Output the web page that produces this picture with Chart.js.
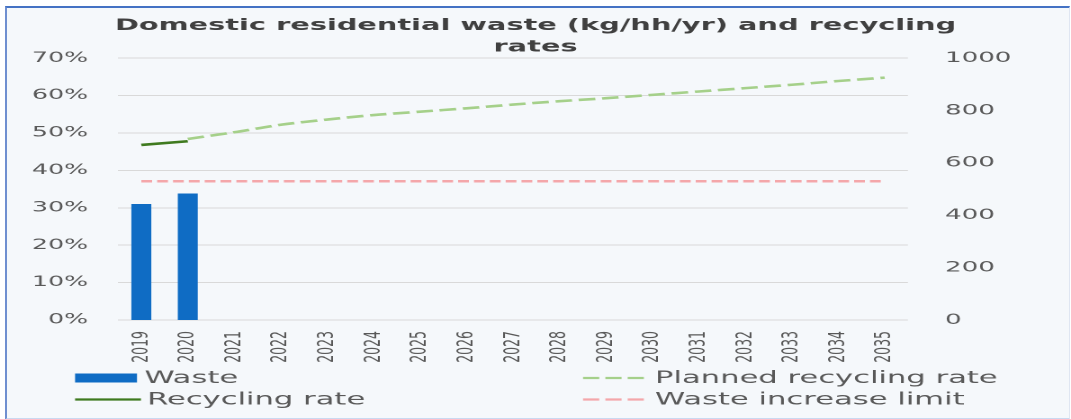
<!DOCTYPE html>
<html>
<head>
<meta charset="utf-8">
<script src="https://cdn.jsdelivr.net/npm/chart.js@4.4.1/dist/chart.umd.min.js"></script>
<style>
  html, body { margin: 0; padding: 0; background: #ffffff; }
  body { width: 1071px; height: 419px; position: relative; overflow: hidden; }
  #frame {
    position: absolute; left: 5px; top: 6px; width: 1062px; height: 410px;
    background: #f5f8fb;
    border-top: 2px solid #4472c4; border-left: 2px solid #6f8fd0;
    border-right: 1px solid #dfe6f2; border-bottom: 2px solid #c9d8f0;
  }
  #wrap {
    position: absolute; left: 0; top: 0; width: 595px; height: 419px;
    transform: scale(1.8, 1); transform-origin: 0 0;
  }
</style>
</head>
<body>
<div id="frame"></div>
<div id="wrap"><canvas id="c"></canvas></div>
<script>
const titleLines = ['Domestic residential waste (kg/hh/yr) and recycling', 'rates'];
const categories = ['2019','2020','2021','2022','2023','2024','2025','2026','2027','2028','2029','2030','2031','2032','2033','2034','2035'];
const wasteKg = [443, 483, null, null, null, null, null, null, null, null, null, null, null, null, null, null, null];
const recyclingRate = [46.8, 47.8, null, null, null, null, null, null, null, null, null, null, null, null, null, null, null];
const plannedRate = [null, 48.4, 50.2, 52.2, 53.6, 54.8, 55.7, 56.6, 57.6, 58.5, 59.3, 60.2, 61.1, 62.0, 62.9, 63.9, 64.8];
const wasteLimit = [530, 530, 530, 530, 530, 530, 530, 530, 530, 530, 530, 530, 530, 530, 530, 530, 530];
const leftTicks = [0, 10, 20, 30, 40, 50, 60, 70];
const rightTicks = [0, 200, 400, 600, 800, 1000];
const seriesNames = ['Waste', 'Recycling rate', 'Planned recycling rate', 'Waste increase limit'];

const FONT = "'DejaVu Sans', Verdana, sans-serif";
const TXT = '#595959';

const legendPlugin = {
  id: 'customLegend',
  afterDraw(chart) {
    const ctx = chart.ctx;
    const ds = chart.data.datasets;
    const slots = [
      { i: 0, x: 41.7, y: 378 },
      { i: 1, x: 41.7, y: 399.5 },
      { i: 2, x: 323.9, y: 378 },
      { i: 3, x: 323.9, y: 399.5 }
    ];
    ctx.save();
    ctx.font = '17px ' + FONT;
    ctx.textBaseline = 'middle';
    ctx.textAlign = 'left';
    slots.forEach(s => {
      const d = ds[s.i];
      const dashed = d.borderDash && d.borderDash.length;
      if (d.type === 'bar') {
        ctx.fillStyle = d.backgroundColor;
        ctx.fillRect(s.x, s.y - 4.5, 34.4, 9);
        ctx.fillStyle = TXT;
        ctx.fillText(d.label, s.x + 38.5, s.y + 0.5);
      } else {
        ctx.save();
        ctx.strokeStyle = d.borderColor;
        ctx.lineWidth = 2.2;
        ctx.setLineDash(dashed ? [9, 3.4] : []);
        ctx.beginPath();
        ctx.moveTo(s.x, s.y);
        ctx.lineTo(s.x + (dashed ? 34.4 : 36.6), s.y);
        ctx.stroke();
        ctx.restore();
        ctx.fillStyle = TXT;
        ctx.fillText(d.label, s.x + 40, s.y + 0.5);
      }
    });
    ctx.restore();
  }
};

new Chart(document.getElementById('c'), {
  data: {
    labels: categories,
    datasets: [
      { type: 'bar', label: seriesNames[0], data: wasteKg, yAxisID: 'yR',
        backgroundColor: '#0f6cc4', barPercentage: 0.43, categoryPercentage: 1, order: 4 },
      { type: 'line', label: seriesNames[1], data: recyclingRate, yAxisID: 'yL',
        borderColor: '#3f7a1f', borderWidth: 2.6, pointRadius: 0, tension: 0, spanGaps: false, order: 1 },
      { type: 'line', label: seriesNames[2], data: plannedRate, yAxisID: 'yL',
        borderColor: '#a5d08a', borderWidth: 2.6, borderDash: [9.3, 3.7], pointRadius: 0, tension: 0.3, order: 2 },
      { type: 'line', label: seriesNames[3], data: wasteLimit, yAxisID: 'yR',
        borderColor: '#f4a7aa', borderWidth: 2.4, borderDash: [6, 2.8], pointRadius: 0, tension: 0, order: 3 }
    ]
  },
  options: {
    responsive: true,
    maintainAspectRatio: false,
    devicePixelRatio: 2,
    animation: false,
    layout: { padding: { left: 0, right: 0, top: 0, bottom: 50 } },
    plugins: {
      legend: { display: false },
      tooltip: { enabled: false },
      title: {
        display: true,
        text: titleLines,
        color: '#404040',
        font: { family: FONT, size: 16, weight: 'bold', lineHeight: 1.35 },
        padding: { top: 15, bottom: 0 }
      }
    },
    scales: {
      x: {
        type: 'category',
        offset: true,
        grid: { display: false, drawTicks: false },
        border: { display: false },
        ticks: {
          autoSkip: false, minRotation: 90, maxRotation: 90, padding: 11,
          color: TXT, font: { family: FONT, size: 12.5 }
        },
        afterFit(scale) { scale.height = 49; }
      },
      yL: {
        type: 'linear', position: 'left', min: 0, max: 70,
        afterBuildTicks(scale) { scale.ticks = leftTicks.map(v => ({ value: v })); },
        grid: { color: '#d9d9d9', lineWidth: 1, drawTicks: false },
        border: { display: false },
        ticks: { padding: 16.7, color: TXT, font: { family: FONT, size: 14 }, callback: v => v + '%' },
        afterFit(scale) { scale.width = 65.6; }
      },
      yR: {
        type: 'linear', position: 'right', min: 0, max: 1000,
        afterBuildTicks(scale) { scale.ticks = rightTicks.map(v => ({ value: v })); },
        grid: { display: false, drawTicks: false },
        border: { display: false },
        ticks: { padding: 20.6, color: TXT, font: { family: FONT, size: 14.5 }, callback: v => String(v) },
        afterFit(scale) { scale.width = 90.6; }
      }
    }
  },
  plugins: [legendPlugin]
});
</script>
</body>
</html>
